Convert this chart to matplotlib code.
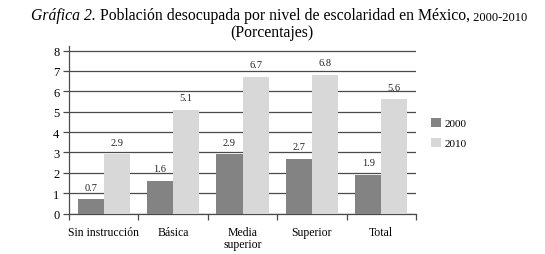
import matplotlib.pyplot as plt
import numpy as np

# data
categories = ['Sin instrucción', 'Básica', 'Media\nsuperior', 'Superior', 'Total']
values_2000 = [0.7, 1.6, 2.9, 2.7, 1.9]
values_2010 = [2.9, 5.1, 6.7, 6.8, 5.6]
years = ['2000', '2010']

plt.rcParams['font.family'] = ['Liberation Serif', 'DejaVu Serif']

W, H = 545, 255
fig = plt.figure(figsize=(W / 100, H / 100), dpi=100)
ax = fig.add_axes([69 / W, 1 - 214.5 / H, (416 - 69) / W, (214.5 - 46.5) / H])

x = np.arange(len(categories))
bw = 0.375
c2000 = '#838383'
c2010 = '#d8d8d8'
grid_c = '#4a4a4a'

b1 = ax.bar(x - bw / 2, values_2000, bw, color=c2000, zorder=3, label=years[0])
b2 = ax.bar(x + bw / 2, values_2010, bw, color=c2010, zorder=3, label=years[1])

for bars, vals in ((b1, values_2000), (b2, values_2010)):
    for r, v in zip(bars, vals):
        ax.text(r.get_x() + r.get_width() / 2, v + 0.38, f'{v:.1f}',
                ha='center', va='bottom', fontsize=7.5, color='#222222')

ax.set_xlim(-0.5, len(categories) - 0.5)
ax.set_ylim(0, 8.25)
ax.set_yticks(range(9))
ax.yaxis.grid(True, color=grid_c, linewidth=0.9, zorder=0)
ax.set_axisbelow(True)

ax.set_xticks(np.arange(len(categories) + 1) - 0.5)
ax.set_xticklabels([])
ax.set_xticks(x, minor=True)
ax.set_xticklabels(categories, minor=True, fontsize=8.5, linespacing=0.95)
ax.tick_params(axis='x', which='major', direction='out', length=4, color=grid_c, width=0.9)
ax.tick_params(axis='x', which='minor', length=0, pad=9)
ax.tick_params(axis='y', direction='out', length=4, color=grid_c, width=0.9, labelsize=9, pad=3)

for s in ('top', 'right'):
    ax.spines[s].set_visible(False)
ax.spines['left'].set_color(grid_c)
ax.spines['bottom'].set_color(grid_c)
ax.spines['left'].set_linewidth(0.9)
ax.spines['bottom'].set_linewidth(0.9)

fig.legend(handles=[b1, b2], labels=years, loc='upper left',
           bbox_to_anchor=(421 / W, 1 - 109 / H), frameon=False, fontsize=8,
           handlelength=0.9, handleheight=0.9, labelspacing=0.85, handletextpad=0.3)

# title line 1 built from pieces
y1 = 1 - 20 / H
t = fig.text(31 / W, y1, 'Gráfica 2.', style='italic', fontsize=11.3, va='baseline')
t2 = ax.annotate(' Población desocupada por nivel de escolaridad en México,', xy=(1, 0),
                 xycoords=t, fontsize=11.3, va='bottom', ha='left', annotation_clip=False)
t3 = ax.annotate(' 2000-2010', xy=(1, 0), xycoords=t2, fontsize=9,
                 va='bottom', ha='left', annotation_clip=False)
fig.text(272 / W, 1 - 37 / H, '(Porcentajes)', fontsize=11.3, ha='center', va='baseline')

fig.savefig('out.png', dpi=100)
